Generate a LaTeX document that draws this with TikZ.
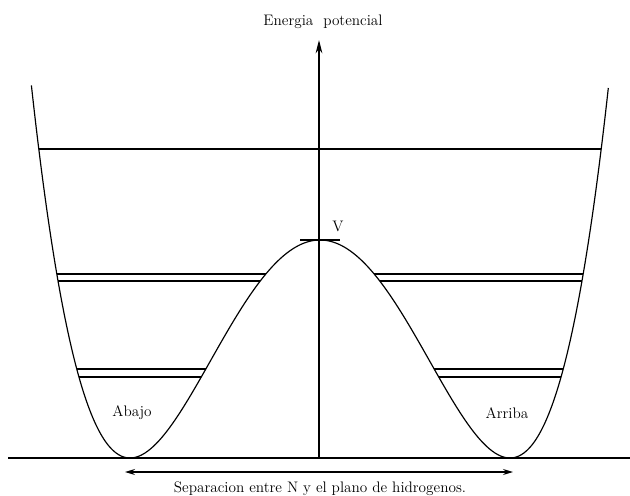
\documentclass[tikz,border=0pt]{standalone}
\usetikzlibrary{arrows.meta}
\begin{document}
\begin{tikzpicture}[x=0.03cm,y=-0.03cm,line width=1pt,font=\fontsize{13}{15}\selectfont]

% Frame
\useasboundingbox (0,0) rectangle (630,496);

% Centre, half width and depth of the wells
\def\xc{320}
\def\w{190}
\def\ymin{458}
\def\h{218}

% Axes
\coordinate (O) at (319,458);
\coordinate (T) at (319,40);
\coordinate (L) at (8,458);
\coordinate (R) at (630,458);
\draw (L) -- (R);
\draw[-{Stealth[length=4mm,width=2mm]}] (O) -- (T);

% Double well
\draw[domain=-1.519:1.519,samples=200,smooth]
  plot ({\xc+\w*\x},{\ymin-\h*(1-\x*\x)*(1-\x*\x)});

% Level above the barrier
\draw (39,149) -- (601,149);

% Split levels, left well
\draw (57,274) -- (266,274);
\draw (58,281) -- (260,281);
\draw (77,369) -- (206,369);
\draw (79,377) -- (201,377);

% Split levels, right well
\draw (374,274) -- (583,274);
\draw (380,281) -- (582,281);
\draw (434,369) -- (563,369);
\draw (439,377) -- (561,377);

% Barrier top
\coordinate (V1) at (300,240);
\coordinate (V2) at (340,240);
\draw (V1) -- (V2);

% Separation arrow
\coordinate (S1) at (125,472);
\coordinate (S2) at (513,472);
\draw[{Stealth[length=3mm,width=1.8mm]}-{Stealth[length=3mm,width=1.8mm]}] (S1) -- (S2);

% Labels
\node (energia) at (323,22) {Energia\ \ potencial};
\node (v) at (338,226) {V};
\node (abajo) at (132,413) {Abajo};
\node (arriba) at (507,413) {Arriba};
\node (sep) at (320,489) {Separacion entre N y el plano de hidrogenos.};

\end{tikzpicture}
\end{document}
